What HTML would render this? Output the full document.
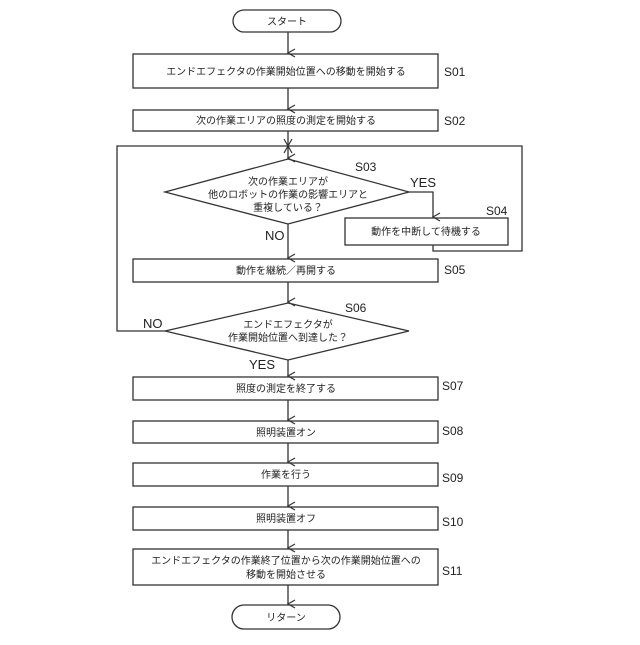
<!DOCTYPE html>
<html><head><meta charset="utf-8"><style>
html,body{margin:0;padding:0;background:#fff;}
svg text{font-family:"Liberation Sans","Noto Sans CJK JP",sans-serif;fill:#222;}
</style></head><body>
<svg width="640" height="640" viewBox="0 0 640 640" xmlns="http://www.w3.org/2000/svg">
<defs><marker id="a" markerWidth="10" markerHeight="10" refX="5" refY="9" orient="auto" markerUnits="userSpaceOnUse"><path d="M1,2 L5,9 L9,2" fill="none" stroke="#333" stroke-width="1.2"/></marker></defs>
<g fill="none" stroke="#333" stroke-width="1.3">
<rect x="233" y="10" width="108" height="22" rx="11"/>
<rect x="133" y="54" width="305" height="34"/>
<rect x="133" y="110" width="305" height="21"/>
<polygon points="288,159 409,192 288,224 165,192"/>
<rect x="345" y="218" width="163" height="27"/>
<rect x="133" y="259" width="305" height="23"/>
<polygon points="288,303 409,331 288,360 165,331"/>
<rect x="133" y="377" width="305" height="23"/>
<rect x="133" y="421" width="305" height="22"/>
<rect x="133" y="463" width="305" height="23"/>
<rect x="133" y="507" width="305" height="23"/>
<rect x="133" y="549" width="305" height="36"/>
<rect x="232" y="605" width="108" height="24" rx="12"/>
<!-- connectors -->
<line x1="288" y1="32" x2="288" y2="53" marker-end="url(#a)"/>
<line x1="288" y1="88" x2="288" y2="109" marker-end="url(#a)"/>
<line x1="288" y1="131" x2="288" y2="158" marker-end="url(#a)"/>
<line x1="288" y1="224" x2="288" y2="258" marker-end="url(#a)"/>
<line x1="288" y1="282" x2="288" y2="302" marker-end="url(#a)"/>
<line x1="288" y1="360" x2="288" y2="376" marker-end="url(#a)"/>
<line x1="288" y1="400" x2="288" y2="420" marker-end="url(#a)"/>
<line x1="288" y1="443" x2="288" y2="462" marker-end="url(#a)"/>
<line x1="288" y1="486" x2="288" y2="506" marker-end="url(#a)"/>
<line x1="288" y1="530" x2="288" y2="548" marker-end="url(#a)"/>
<line x1="288" y1="585" x2="288" y2="604" marker-end="url(#a)"/>
<polyline points="409,192 433,192 433,217" marker-end="url(#a)"/>
<polyline points="433,245 433,251 522,251 522,146 288,146" marker-end="url(#a)"/>
<polyline points="165,331 117,331 117,146 288,146" marker-end="url(#a)"/>
</g>
<g font-size="10" text-anchor="middle">
<text x="287" y="25">スタート</text>
<text x="286" y="75">エンドエフェクタの作業開始位置への移動を開始する</text>
<text x="286" y="124">次の作業エリアの照度の測定を開始する</text>
<text x="288" y="185">次の作業エリアが</text>
<text x="288" y="198">他のロボットの作業の影響エリアと</text>
<text x="288" y="211">重複している？</text>
<text x="426" y="235">動作を中断して待機する</text>
<text x="286" y="274">動作を継続／再開する</text>
<text x="288" y="328">エンドエフェクタが</text>
<text x="288" y="341">作業開始位置へ到達した？</text>
<text x="286" y="392">照度の測定を終了する</text>
<text x="286" y="436">照明装置オン</text>
<text x="286" y="478">作業を行う</text>
<text x="286" y="522">照明装置オフ</text>
<text x="286" y="564">エンドエフェクタの作業終了位置から次の作業開始位置への</text>
<text x="286" y="578">移動を開始させる</text>
<text x="286" y="621">リターン</text>
</g>
<g font-size="12">
<text x="444" y="76">S01</text>
<text x="444" y="125">S02</text>
<text x="355" y="171">S03</text>
<text x="486" y="215">S04</text>
<text x="444" y="274">S05</text>
<text x="345" y="312">S06</text>
<text x="442" y="390">S07</text>
<text x="442" y="435">S08</text>
<text x="442" y="482">S09</text>
<text x="442" y="526">S10</text>
<text x="442" y="575">S11</text>
</g>
<g font-size="13">
<text x="410" y="187">YES</text>
<text x="265" y="240">NO</text>
<text x="143" y="328">NO</text>
<text x="249" y="369">YES</text>
</g>
</svg>
</body></html>
